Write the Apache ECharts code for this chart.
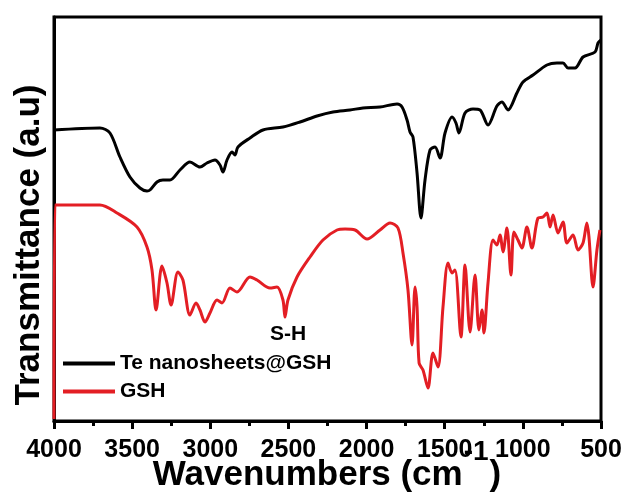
<!DOCTYPE html>
<html lang="en">
<head>
    <meta charset="UTF-8">
    <title>FTIR</title>
    <script src="https://cdn.jsdelivr.net/npm/echarts@6/dist/echarts.min.js"></script>
    <style>
        html, body { margin: 0; padding: 0; background: #fff; }
        #chart { width: 625px; height: 492px; }
    </style>
</head>
<body>
<div id="chart"></div>
<script>
    // wavenumbers (cm-1) and transmittance (a.u.)
    var teWave = [4000, 3706, 3642, 3578, 3514, 3450, 3405, 3386, 3341, 3303, 3258, 3194, 3130, 3066, 3021, 2970, 2938, 2919, 2893, 2861, 2842, 2823, 2746, 2663, 2535, 2426, 2317, 2215, 2106, 2023, 1914, 1805, 1773, 1741, 1722, 1703, 1677, 1652, 1626, 1594, 1562, 1530, 1498, 1453, 1428, 1409, 1370, 1319, 1274, 1223, 1166, 1134, 1095, 1038, 999, 935, 846, 782, 743, 711, 666, 615, 538, 519, 500];
    var teT = [293, 295, 290, 266, 246, 235, 232, 233, 241, 243, 243, 253, 261, 256, 260, 263, 258, 251, 263, 271, 268, 276, 285, 293, 296, 301, 307, 311, 313, 315, 316, 319, 316, 303, 291, 286, 250, 205, 243, 273, 276, 265, 290, 306, 300, 290, 310, 314, 313, 298, 317, 321, 313, 330, 341, 348, 358, 360, 360, 355, 355, 366, 371, 380, 383];

    var gshWave = [4000, 3994, 3706, 3597, 3469, 3405, 3373, 3347, 3309, 3277, 3251, 3207, 3175, 3130, 3091, 3066, 3034, 3002, 2957, 2925, 2874, 2829, 2746, 2701, 2618, 2573, 2535, 2522, 2503, 2445, 2362, 2279, 2189, 2138, 2074, 1997, 1914, 1850, 1799, 1767, 1735, 1709, 1690, 1677, 1664, 1639, 1607, 1575, 1543, 1511, 1479, 1453, 1434, 1396, 1370, 1338, 1306, 1281, 1261, 1249, 1223, 1191, 1166, 1146, 1127, 1102, 1076, 1057, 1031, 1006, 974, 942, 903, 871, 846, 826, 807, 775, 743, 718, 679, 647, 615, 590, 577, 551, 526, 507];
    var gshT = [4, 218, 218, 210, 196, 176, 153, 113, 157, 140, 118, 151, 143, 108, 120, 113, 101, 110, 123, 120, 135, 131, 146, 143, 135, 136, 123, 106, 123, 146, 166, 183, 193, 194, 193, 184, 193, 200, 195, 170, 133, 78, 136, 116, 60, 53, 35, 70, 56, 116, 160, 150, 153, 86, 158, 91, 148, 93, 113, 90, 140, 183, 178, 188, 171, 195, 148, 191, 183, 175, 196, 175, 205, 206, 210, 196, 208, 190, 201, 180, 188, 173, 180, 200, 186, 136, 173, 193];

    function pairs(xs, ys) {
        var out = [];
        for (var i = 0; i < xs.length; i++) out.push([xs[i], ys[i]]);
        return out;
    }

    var font = "'Liberation Sans', Arial, sans-serif";

    // x title is built from three pieces so the superscript sits up high
    var cv = document.createElement('canvas').getContext('2d');
    function textW(s, size) {
        cv.font = 'bold ' + size + 'px ' + font;
        return cv.measureText(s).width;
    }
    var t1 = 'Wavenumbers (cm', t2 = '-1', t3 = ')';
    var w1 = textW(t1, 35), w2 = textW(t2, 28), w3 = textW(t3, 35);
    var x0 = 326 - (w1 + w2 + w3) / 2;

    var chart = echarts.init(document.getElementById('chart'));

    chart.setOption({
        animation: false,
        grid: {
            left: 54, right: 24, top: 17, bottom: 71,
            show: true, borderColor: '#000', borderWidth: 3
        },
        legend: {
            orient: 'vertical',
            left: 63, top: 353, padding: 0,
            itemWidth: 52, itemHeight: 4, itemGap: 7,
            icon: 'rect',
            textStyle: { fontFamily: font, fontWeight: 'bold', fontSize: 21, color: '#000' },
            data: ['Te nanosheets@GSH', 'GSH']
        },
        xAxis: {
            type: 'value',
            min: 500, max: 4000, interval: 500,
            inverse: true,
            axisLine: { lineStyle: { color: '#000', width: 3 } },
            axisTick: { show: true, inside: false, length: 8, lineStyle: { width: 3, color: '#000' } },
            minorTick: { show: true, splitNumber: 2, length: 5, lineStyle: { width: 3, color: '#000' } },
            splitLine: { show: false },
            axisLabel: {
                margin: 17, color: '#000', fontFamily: font, fontWeight: 'bold', fontSize: 25,
                formatter: function (v) { return String(v); }
            }
        },
        yAxis: {
            type: 'value',
            min: 2, max: 406,
            axisLine: { show: true, lineStyle: { color: '#000', width: 3 } },
            axisTick: { show: false },
            axisLabel: { show: false },
            splitLine: { show: false }
        },
        graphic: [
            {
                type: 'text', x: 29, y: 245, rotation: Math.PI / 2,
                style: {
                    text: 'Transmittance (a.u)', fontFamily: font, fontWeight: 'bold',
                    fontSize: 35, fill: '#000', align: 'center', verticalAlign: 'middle'
                }
            },
            {
                type: 'text', x: x0, y: 475,
                style: { text: t1, fontFamily: font, fontWeight: 'bold', fontSize: 35, fill: '#000', align: 'left', verticalAlign: 'middle' }
            },
            {
                type: 'text', x: x0 + w1 + 1, y: 452,
                style: { text: t2, fontFamily: font, fontWeight: 'bold', fontSize: 28, fill: '#000', align: 'left', verticalAlign: 'middle' }
            },
            {
                type: 'text', x: x0 + w1 + w2 + 2, y: 475,
                style: { text: t3, fontFamily: font, fontWeight: 'bold', fontSize: 35, fill: '#000', align: 'left', verticalAlign: 'middle' }
            }
        ],
        series: [
            {
                name: 'Te nanosheets@GSH',
                type: 'line',
                data: pairs(teWave, teT),
                showSymbol: false,
                smooth: 0.3,
                color: '#000',
                lineStyle: { width: 3, color: '#000' }
            },
            {
                name: 'GSH',
                type: 'line',
                data: pairs(gshWave, gshT),
                showSymbol: false,
                smooth: 0.3,
                color: '#e31e24',
                lineStyle: { width: 3, color: '#e31e24' },
                markPoint: {
                    symbol: 'circle', symbolSize: 0,
                    data: [{ coord: [2522, 106] }],
                    label: {
                        show: true, formatter: 'S-H', offset: [3, 17],
                        color: '#000', fontFamily: font, fontWeight: 'bold', fontSize: 21
                    }
                }
            }
        ]
    });
</script>
</body>
</html>
